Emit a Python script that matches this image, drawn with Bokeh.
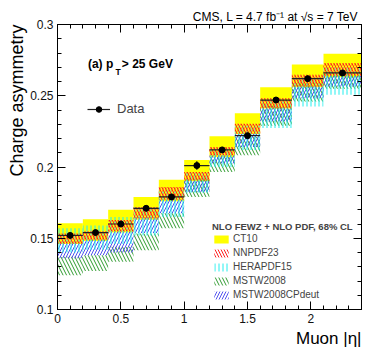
from bokeh.plotting import figure
from bokeh.models import (FixedTicker, LinearAxis, Range1d, Label, Legend, LegendItem, Title,
                          CustomJSTickFormatter)
from bokeh.embed import file_html
from bokeh.resources import INLINE

# ---------------- data ----------------
bin_lo = [0.0, 0.2, 0.4, 0.6, 0.8, 1.0, 1.2, 1.4, 1.6, 1.85, 2.1]
bin_hi = [0.2, 0.4, 0.6, 0.8, 1.0, 1.2, 1.4, 1.6, 1.85, 2.1, 2.4]
eta_c = [0.1, 0.3, 0.5, 0.7, 0.9, 1.1, 1.3, 1.5, 1.725, 1.975, 2.25]

data_val = [0.152, 0.154, 0.160, 0.171, 0.179, 0.201, 0.212, 0.222, 0.247, 0.262, 0.266]
data_err = [0.002, 0.002, 0.002, 0.002, 0.002, 0.003, 0.002, 0.002, 0.002, 0.002, 0.002]

ct10_lo = [0.146, 0.148, 0.154, 0.163, 0.176, 0.190, 0.207, 0.223, 0.241, 0.256, 0.263]
ct10_hi = [0.1605, 0.1633, 0.170, 0.179, 0.191, 0.205, 0.2215, 0.2378, 0.256, 0.272, 0.2795]

nnpdf_lo = [0.1464, 0.149, 0.155, 0.164, 0.177, 0.1906, 0.2082, 0.2234, 0.2413, 0.2565, 0.264]
nnpdf_hi = [0.1534, 0.155, 0.1628, 0.172, 0.186, 0.1965, 0.214, 0.2304, 0.2483, 0.2647, 0.273]

hera_lo = [0.140, 0.142, 0.146, 0.152, 0.165, 0.182, 0.200, 0.212, 0.2273, 0.2425, 0.2507]
hera_hi = [0.157, 0.159, 0.165, 0.172, 0.184, 0.196, 0.213, 0.229, 0.247, 0.263, 0.270]

mstw_lo = [0.124, 0.127, 0.1335, 0.1416, 0.157, 0.179, 0.1965, 0.2082, 0.229, 0.246, 0.255]
mstw_hi = [0.137, 0.138, 0.144, 0.1533, 0.1675, 0.192, 0.207, 0.221, 0.243, 0.259, 0.266]

deut_lo = [0.136, 0.138, 0.140, 0.1536, 0.1675, 0.1824, 0.2024, 0.214, 0.2319, 0.2483, 0.2565]
deut_hi = [0.1475, 0.149, 0.155, 0.1655, 0.177, 0.1906, 0.2082, 0.2234, 0.2413, 0.2565, 0.264]

x_ticks = [0, 0.5, 1, 1.5, 2]
x_tick_labels = ["0", "0.5", "1", "1.5", "2"]
y_ticks = [0.1, 0.15, 0.2, 0.25, 0.3]
y_tick_labels = ["0.1", "0.15", "0.2", "0.25", "0.3"]

pdf_names = ["CT10", "NNPDF23", "HERAPDF15", "MSTW2008", "MSTW2008CPdeut"]

FONT = "Liberation Sans"

# ---------------- figure ----------------
p = figure(width=374, height=359, x_range=Range1d(0, 2.4), y_range=Range1d(0.1, 0.3),
           output_backend="svg", toolbar_location=None,
           min_border_left=57, min_border_right=13, min_border_top=24, min_border_bottom=50)
p.grid.visible = False
p.outline_line_color = None
p.background_fill_color = "white"
p.border_fill_color = "white"

x_minor = [round(0.1 * i, 2) for i in range(25)]
y_minor = [round(0.1 + 0.01 * i, 3) for i in range(21)]
xt = FixedTicker(ticks=x_ticks, minor_ticks=x_minor)
yt = FixedTicker(ticks=y_ticks, minor_ticks=y_minor)

def style_axis(ax, major=8, minor=4):
    ax.axis_line_color = "black"
    ax.axis_line_width = 1
    ax.major_tick_in = major
    ax.major_tick_out = 0
    ax.minor_tick_in = minor
    ax.minor_tick_out = 0
    ax.major_tick_line_color = "black"
    ax.minor_tick_line_color = "black"
    ax.major_label_text_font = FONT
    ax.major_label_text_color = "#111111"
    ax.major_label_text_font_size = "12px"
    ax.major_label_standoff = 4

p.xaxis.ticker = xt
p.yaxis.ticker = yt
p.xaxis.major_label_overrides = {t: l for t, l in zip(x_ticks, x_tick_labels)}
p.yaxis.major_label_overrides = {t: l for t, l in zip(y_ticks, y_tick_labels)}
style_axis(p.xaxis[0])
style_axis(p.yaxis[0])

ax_r = LinearAxis(ticker=yt, formatter=CustomJSTickFormatter(code="return ''"))
style_axis(ax_r)
ax_r.major_label_standoff = 0
p.add_layout(ax_r, "right")
ax_t = LinearAxis(ticker=xt, formatter=CustomJSTickFormatter(code="return ''"))
style_axis(ax_t)
ax_t.major_label_standoff = 0
p.add_layout(ax_t, "above")

# ---------------- theory bands ----------------
r_ct10 = p.quad(left=bin_lo, right=bin_hi, bottom=ct10_lo, top=ct10_hi,
                fill_color="#ffff00", line_color=None)
r_mstw = p.quad(left=bin_lo, right=bin_hi, bottom=mstw_lo, top=mstw_hi,
                fill_alpha=0, line_color=None, hatch_pattern="\\", hatch_color="#2e9a2e",
                hatch_scale=7, hatch_weight=1)
r_deut = p.quad(left=bin_lo, right=bin_hi, bottom=deut_lo, top=deut_hi,
                fill_alpha=0, line_color=None, hatch_pattern="/", hatch_color="#5050ee",
                hatch_scale=6, hatch_weight=1)
r_hera = p.quad(left=bin_lo, right=bin_hi, bottom=hera_lo, top=hera_hi,
                fill_alpha=0, line_color=None, hatch_pattern="|", hatch_color="#22eeee",
                hatch_scale=4, hatch_weight=1)
p.quad(left=bin_lo, right=bin_hi, bottom=nnpdf_lo, top=nnpdf_hi,
       fill_alpha=0, line_color=None, hatch_pattern="/", hatch_color="#ff9a1e",
       hatch_scale=6, hatch_weight=1)
r_nnpdf = p.quad(left=bin_lo, right=bin_hi, bottom=nnpdf_lo, top=nnpdf_hi,
                 fill_alpha=0, line_color=None, hatch_pattern="\\", hatch_color="#ff2020",
                 hatch_scale=6, hatch_weight=1)

# ---------------- data ----------------
xerr_r = p.segment(x0=bin_lo, x1=bin_hi, y0=data_val, y1=data_val, line_color="#222222", line_width=1.2)
p.segment(x0=eta_c, x1=eta_c,
          y0=[v - e for v, e in zip(data_val, data_err)],
          y1=[v + e for v, e in zip(data_val, data_err)],
          line_color="#111111", line_width=1.2)
pts_r = p.scatter(x=eta_c, y=data_val, size=6, marker="circle", fill_color="black", line_color="black")

# ---------------- legends ----------------
leg_data = Legend(items=[LegendItem(label="Data", renderers=[xerr_r, pts_r])],
                  location=(30, 193), glyph_width=23, glyph_height=14, label_height=14,
                  label_standoff=7, label_text_font=FONT, label_text_font_size="13px",
                  padding=0, margin=0, border_line_color=None, background_fill_alpha=0)
p.add_layout(leg_data, "center")

pdf_renderers = [r_ct10, r_nnpdf, r_hera, r_mstw, r_deut]
leg_pdf = Legend(items=[LegendItem(label=n, renderers=[r]) for n, r in zip(pdf_names, pdf_renderers)],
                 location=(155, 9), glyph_width=18, glyph_height=10, label_height=10,
                 spacing=3, label_standoff=3, label_text_font=FONT, label_text_font_size="10px",
                 title="NLO FEWZ + NLO PDF, 68% CL", title_text_font=FONT,
                 title_text_font_style="bold", title_text_font_size="9.5px", title_standoff=1,
                 padding=0, margin=0, border_line_color=None, background_fill_alpha=0)
p.add_layout(leg_pdf, "center")

# ---------------- texts ----------------
p.title.text = "CMS,  L = 4.7 fb\u207b\u00b9 at \u221as = 7 TeV"
p.title.align = "right"
p.title.text_font = FONT
p.title.text_font_size = "12px"
p.title.text_font_style = "normal"
p.title.text_color = "black"
p.title.standoff = 2

p.add_layout(Title(text="Muon |\u03b7|", align="right", text_font=FONT, text_font_size="17px",
                   text_font_style="normal", text_color="black", standoff=2), "below")
p.add_layout(Title(text="Charge asymmetry", align="right", text_font=FONT, text_font_size="18px",
                   text_font_style="normal", text_color="black", standoff=2), "left")

p.add_layout(Label(x=0.240, y=0.2724, text="(a)  p", text_font=FONT, text_font_style="bold",
                   text_font_size="12px", text_baseline="alphabetic", text_color="black"))
p.add_layout(Label(x=0.4576, y=0.2666, text="T", text_font=FONT, text_font_style="bold",
                   text_font_size="8.5px", text_baseline="alphabetic", text_color="black"))
p.add_layout(Label(x=0.508, y=0.2724, text="> 25 GeV", text_font=FONT, text_font_style="bold",
                   text_font_size="12px", text_baseline="alphabetic", text_color="black"))

open("out.html", "w").write(file_html(p, INLINE))
